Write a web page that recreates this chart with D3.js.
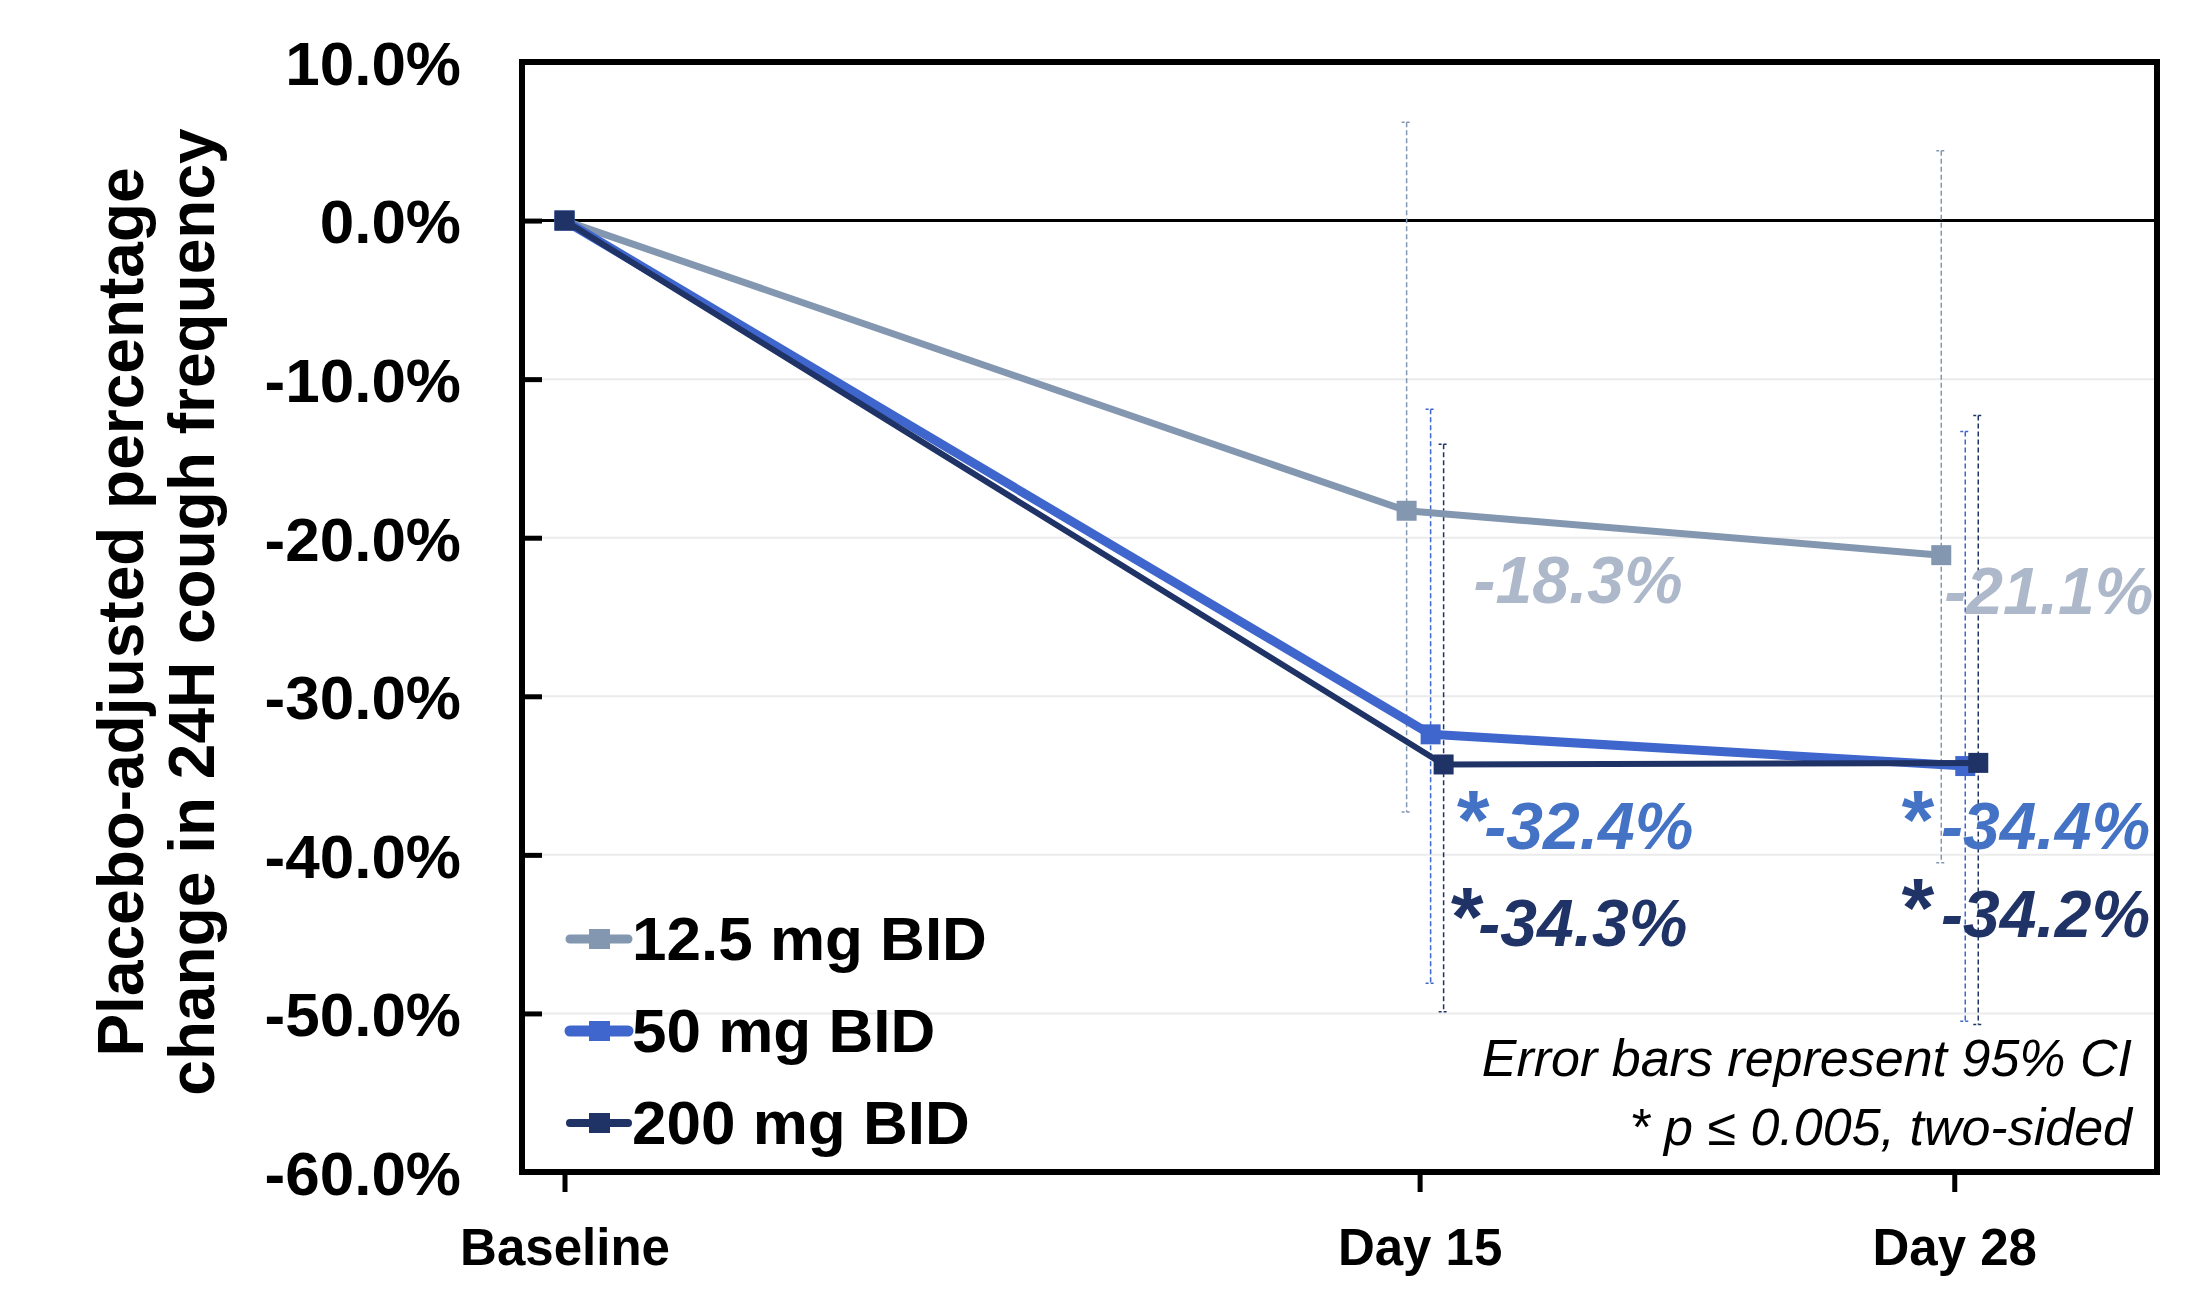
<!DOCTYPE html>
<html>
<head>
<meta charset="utf-8">
<script src="https://cdn.jsdelivr.net/npm/d3@7"></script>
<style>
  body { margin: 0; background: #fff; }
  text { font-family: "Liberation Sans", Arial, sans-serif; }
</style>
</head>
<body>
<div id="chart"></div>
<script>
// data
const categories = ["Baseline", "Day 15", "Day 28"];
const seriesNames = ["12.5 mg BID", "50 mg BID", "200 mg BID"];
const values125 = [0, -18.3, -21.1];
const values50 = [0, -32.4, -34.4];
const values200 = [0, -34.3, -34.2];
const ciLow125 = [null, -37.3, -40.5];
const ciHigh125 = [null, 6.2, 4.4];
const ciLow50 = [null, -48.1, -50.5];
const ciHigh50 = [null, -11.9, -13.3];
const ciLow200 = [null, -49.9, -50.7];
const ciHigh200 = [null, -14.1, -12.3];
const sig125 = [false, false, false];
const sig50 = [false, true, true];
const sig200 = [false, true, true];
const yTicks = [10, 0, -10, -20, -30, -40, -50, -60];
const noteLines = ["Error bars represent 95% CI", "* p \u2264 0.005, two-sided"];

const width = 2203, height = 1307;
const margin = { left: 522, right: 46, top: 62, bottom: 135 };
const innerW = width - margin.left - margin.right;
const innerH = height - margin.top - margin.bottom;

// where each category sits along the axis (fraction of plot width)
const catFrac = [0.026, 0.549, 0.876];

const series = [
  { name: seriesNames[0], vals: values125, lo: ciLow125, hi: ciHigh125, sig: sig125,
    line: "#8497b0", label: "#adb9ca", width: 7, shift: -13,
    lab: [null, [69, 92], [5, 59]] },
  { name: seriesNames[1], vals: values50, lo: ciLow50, hi: ciHigh50, sig: sig50,
    line: "#3f66cc", label: "#4472c4", width: 9, shift: 11,
    lab: [null, [23, 115], [-67, 83]] },
  { name: seriesNames[2], vals: values200, lo: ciLow200, hi: ciHigh200, sig: sig200,
    line: "#1f3366", label: "#1f3366", width: 6, shift: 24,
    lab: [null, [4, 182], [-80, 174]] }
];

const svg = d3.select("#chart").append("svg")
  .attr("width", width)
  .attr("height", height);

const g = svg.append("g")
  .attr("transform", `translate(${margin.left},${margin.top})`);

const x = d3.scaleOrdinal()
  .domain(categories)
  .range(catFrac.map(f => f * innerW));

const y = d3.scaleLinear()
  .domain([-60, 10])
  .range([innerH, 0]);

// gridlines
g.append("g")
  .selectAll("line")
  .data(yTicks.filter(d => d < 0 && d > -60))
  .enter().append("line")
  .attr("x1", 0).attr("x2", innerW)
  .attr("y1", d => y(d)).attr("y2", d => y(d))
  .style("stroke", "#ebebeb")
  .style("stroke-width", 2);

// zero line
g.append("line")
  .attr("x1", 0).attr("x2", innerW)
  .attr("y1", y(0)).attr("y2", y(0))
  .style("stroke", "#000")
  .style("stroke-width", 3);

// y axis
const yAxis = g.append("g")
  .call(d3.axisLeft(y).tickValues(yTicks)
    .tickSize(-20).tickPadding(61)
    .tickFormat(d => d.toFixed(1) + "%"));
yAxis.select(".domain").remove();
yAxis.selectAll("line").style("stroke", "#000").style("stroke-width", 5);
yAxis.selectAll("text")
  .style("font-size", "62px")
  .style("font-weight", "bold")
  .style("fill", "#000")
  .attr("dy", "0.36em");

// x axis
const xAxis = g.append("g")
  .attr("transform", `translate(0,${innerH})`)
  .call(d3.axisBottom(x).tickSize(20).tickPadding(37));
xAxis.select(".domain").remove();
xAxis.selectAll("line").style("stroke", "#000").style("stroke-width", 5);
xAxis.selectAll("text")
  .style("font-size", "51px")
  .style("font-weight", "bold")
  .style("fill", "#000");

// frame
g.append("rect")
  .attr("x", 0).attr("y", 0)
  .attr("width", innerW).attr("height", innerH)
  .style("fill", "none")
  .style("stroke", "#000")
  .style("stroke-width", 6);

const px = (s, i) => x(categories[i]) + (i > 0 ? s.shift : 0);

// error bars
series.forEach(s => {
  const eb = g.append("g");
  s.vals.forEach((v, i) => {
    if (s.lo[i] == null) return;
    const cx = px(s, i);
    eb.append("line")
      .attr("x1", cx).attr("x2", cx)
      .attr("y1", y(s.hi[i])).attr("y2", y(s.lo[i]))
      .style("stroke", s.line).style("stroke-width", 1.5)
      .style("stroke-dasharray", "5,3");
    [s.hi[i], s.lo[i]].forEach(e => {
      eb.append("line")
        .attr("x1", cx - 5).attr("x2", cx + 5)
        .attr("y1", y(e)).attr("y2", y(e))
        .style("stroke", s.line).style("stroke-width", 1.5)
        .style("stroke-dasharray", "3,2");
    });
  });
});

// lines + markers
const line = d3.line()
  .x(d => d.x)
  .y(d => y(d.v));

series.forEach(s => {
  const pts = s.vals.map((v, i) => ({ x: px(s, i), v: v }));
  g.append("path")
    .datum(pts)
    .attr("d", line)
    .style("fill", "none")
    .style("stroke", s.line)
    .style("stroke-width", s.width)
    .style("stroke-linejoin", "round");
  g.selectAll(null)
    .data(pts)
    .enter().append("rect")
    .attr("x", d => d.x - 10).attr("y", d => y(d.v) - 10)
    .attr("width", 20).attr("height", 20)
    .style("fill", s.line);
});

// value labels
series.forEach(s => {
  s.vals.forEach((v, i) => {
    if (!s.lab[i]) return;
    const t = g.append("text")
      .attr("x", px(s, i) + s.lab[i][0])
      .attr("y", y(v) + s.lab[i][1])
      .style("font-weight", "bold")
      .style("font-style", "italic")
      .style("fill", s.label);
    if (s.sig[i]) {
      t.append("tspan").style("font-size", "84px").text("*");
    }
    t.append("tspan")
      .style("font-size", "66px")
      .attr("dx", s.sig[i] && i === 2 ? 10 : -2)
      .text(v.toFixed(1) + "%");
  });
});

// legend
const legend = g.append("g")
  .attr("transform", "translate(48,898)");
series.forEach((s, i) => {
  const row = legend.append("g").attr("transform", `translate(0,${i * 92})`);
  row.append("line")
    .attr("x1", 0).attr("x2", 58)
    .attr("y1", -21).attr("y2", -21)
    .style("stroke", s.line)
    .style("stroke-width", s.width + 2)
    .style("stroke-linecap", "round");
  row.append("rect")
    .attr("x", 19).attr("y", -31)
    .attr("width", 21).attr("height", 20)
    .style("fill", s.line);
  row.append("text")
    .attr("x", 62)
    .style("font-size", "62px")
    .style("font-weight", "bold")
    .style("fill", "#000")
    .text(s.name);
});

// note
g.append("g")
  .selectAll("text")
  .data(noteLines)
  .enter().append("text")
  .attr("x", 1610)
  .attr("y", (d, i) => 1014 + i * 69)
  .attr("text-anchor", "end")
  .style("font-size", "52px")
  .style("font-style", "italic")
  .style("fill", "#000")
  .text(d => d);

// y axis title
svg.append("text")
  .attr("transform", "translate(143,612) rotate(-90)")
  .attr("text-anchor", "middle")
  .style("font-size", "64px")
  .style("font-weight", "bold")
  .style("fill", "#000")
  .selectAll("tspan")
  .data(["Placebo-adjusted percentage", "change in 24H cough frequency"])
  .enter().append("tspan")
  .attr("x", 0)
  .attr("dy", (d, i) => i === 0 ? 0 : 71)
  .text(d => d);
</script>
</body>
</html>
